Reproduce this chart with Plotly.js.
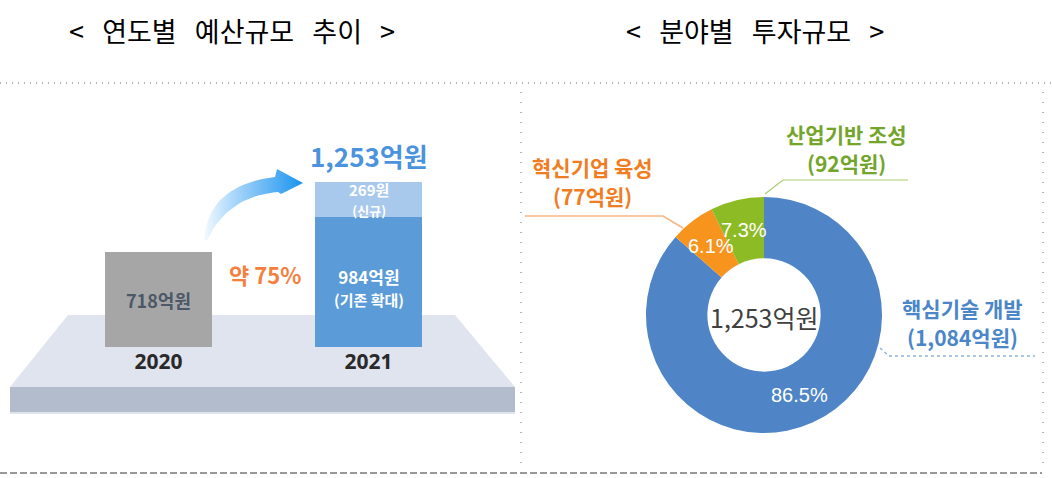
<!DOCTYPE html>
<html>
<head>
<meta charset="utf-8">
<script src="https://cdn.plot.ly/plotly-3.0.1.min.js"></script>
<style>html,body{margin:0;padding:0;background:#fff;}</style>
</head>
<body>
<div id="chart" style="width:1052px;height:478px;"></div>
<script>
const W = 1052, H = 478;

// 연도별 예산규모 (억원)
const years = ['2020', '2021'];
const existing = [718, 984];      // 2020 전체 / 2021 기존 확대
const newYears = ['2021'];
const added = [269];              // 2021 신규

// 분야별 투자규모 (억원)
const fields = ['핵심기술 개발', '혁신기업 육성', '산업기반 조성'];
const fieldBudget = [1084, 77, 92];
const fieldColors = ['#4f85c6', '#f7941d', '#8dbb25'];
const fieldTextColors = ['#4a86c8', '#f07d22', '#72a52a'];

// pixel -> paper
const px = x => x / W;
const py = y => 1 - y / H;

const total2021 = existing[1] + added[0];
const growth = Math.round((total2021 / existing[0] - 1) * 100);
const fmt = v => v.toLocaleString('en-US');
const yi = y => years.indexOf(y); // category index for annotations

const KR = '"Noto Sans CJK KR", "Noto Sans", sans-serif';

// bar subplot placement (px)
const barBase = 347, pxPerUnit = 0.1317, yMax = 1400;
const barLeft = 53.5, barRight = 473.5;

// 곡선 화살표 (장식)
const bez = (p0, c, p1, n) => Array.from(Array(n + 1), (el, i) => {
    const t = i / n;
    return [
        (1 - t) * (1 - t) * p0[0] + 2 * (1 - t) * t * c[0] + t * t * p1[0],
        (1 - t) * (1 - t) * p0[1] + 2 * (1 - t) * t * c[1] + t * t * p1[1]
    ];
});
const arrowPts = [
    ...bez([204, 240], [208, 185], [275, 177], 20),
    [277, 169], [303, 183], [281, 194], [278, 192],
    ...bez([278, 192], [228, 196], [207, 240], 20)
];

const barExisting = {
    type: 'bar',
    x: years,
    y: existing,
    width: 0.51,
    marker: { color: ['#a6a6a6', '#5b9bd8'], line: { width: 0 } },
    hoverinfo: 'skip',
    xaxis: 'x', yaxis: 'y'
};
const barAdded = {
    type: 'bar',
    x: newYears,
    y: added,
    width: 0.51,
    marker: { color: '#a9c9ec', line: { width: 0 } },
    hoverinfo: 'skip',
    xaxis: 'x', yaxis: 'y'
};
const arrow = {
    type: 'scatter',
    mode: 'lines',
    x: arrowPts.map(p => p[0]),
    y: arrowPts.map(p => p[1]),
    fill: 'toself',
    fillcolor: '#5cb3f5',
    fillgradient: {
        type: 'horizontal',
        colorscale: [[0, '#f4faff'], [0.25, '#b5dcfb'], [1, '#1a93ee']]
    },
    line: { width: 0, color: 'rgba(0,0,0,0)' },
    hoverinfo: 'skip',
    xaxis: 'x2', yaxis: 'y2'
};

// donut
const pieX = [646, 882], pieY = [195, 435];
const cx = (pieX[0] + pieX[1]) / 2, cy = (pieY[0] + pieY[1]) / 2;
const R = Math.min(pieX[1] - pieX[0], pieY[1] - pieY[0]) / 2;
const hole = 0.48;
const donut = {
    type: 'pie',
    labels: fields,
    values: fieldBudget,
    hole: hole,
    sort: false,
    direction: 'clockwise',
    rotation: 0,
    textinfo: 'none',
    hoverinfo: 'label+value+percent',
    marker: { colors: fieldColors, line: { width: 0 } },
    domain: { x: [px(pieX[0]), px(pieX[1])], y: [py(pieY[1]), py(pieY[0])] },
    showlegend: false
};

const fieldTotal = fieldBudget.reduce((a, b) => a + b, 0);
let cum = 0;
const pctAnn = fieldBudget.map(v => {
    const mid = (cum + v / 2) / fieldTotal * 2 * Math.PI;
    cum += v;
    const r = R * (1 + hole) / 2;
    return {
        xref: 'paper', yref: 'paper', xanchor: 'center', yanchor: 'middle',
        x: px(cx + r * Math.sin(mid)), y: py(cy - r * Math.cos(mid)),
        text: (v / fieldTotal * 100).toFixed(1) + '%',
        showarrow: false,
        font: { family: '"Liberation Sans", Arial, sans-serif', size: 20, color: '#ffffff' }
    };
});

// label positions for the fields (px): [x, name y, value y]
const fieldLabelPos = [[962, 308, 337], [592, 167, 196], [846, 134, 163]];
const fieldAnn = [];
fields.forEach((f, i) => {
    const font = { family: KR, size: 21, color: fieldTextColors[i], weight: 'bold' };
    fieldAnn.push({
        xref: 'paper', yref: 'paper', xanchor: 'center', yanchor: 'middle',
        x: px(fieldLabelPos[i][0]), y: py(fieldLabelPos[i][1]),
        text: f, showarrow: false, font: font
    });
    fieldAnn.push({
        xref: 'paper', yref: 'paper', xanchor: 'center', yanchor: 'middle',
        x: px(fieldLabelPos[i][0]), y: py(fieldLabelPos[i][2]),
        text: '(' + fmt(fieldBudget[i]) + '억원)', showarrow: false, font: font
    });
});

const leaders = [
    { pts: [[880, 348], [889, 356], [1035, 356]], color: '#8db2df', dash: 'dot', width: 1.5 },
    { pts: [[525, 216], [663, 216], [683, 228]], color: '#f8b583', dash: 'solid', width: 1.5 },
    { pts: [[765, 194], [783, 180], [908, 180]], color: '#a9cd6c', dash: 'solid', width: 1.2 }
];
const toPath = pts => pts.map((p, i) => (i ? 'L' : 'M') + px(p[0]).toFixed(5) + ',' + py(p[1]).toFixed(5)).join(' ');

const shapes = [
    // platform top face
    { type: 'path', xref: 'paper', yref: 'paper', layer: 'below',
      path: toPath([[68, 315], [455, 315], [515, 387], [10, 387]]) + ' Z',
      fillcolor: '#dfe4ee', line: { width: 0 } },
    // platform front face
    { type: 'path', xref: 'paper', yref: 'paper', layer: 'below',
      path: toPath([[10, 387], [515, 387], [515, 412], [10, 412]]) + ' Z',
      fillcolor: '#b2bccd', line: { width: 0 } },
    { type: 'line', xref: 'paper', yref: 'paper', layer: 'below',
      x0: px(10), x1: px(515), y0: py(413), y1: py(413), line: { color: '#dfe4ec', width: 2 } },
    // frame lines
    { type: 'line', xref: 'paper', yref: 'paper', x0: 0, x1: 1, y0: py(83), y1: py(83),
      line: { color: '#666', width: 1, dash: '1px,5px' } },
    { type: 'line', xref: 'paper', yref: 'paper', x0: px(521), x1: px(521), y0: py(92), y1: py(468),
      line: { color: '#666', width: 1, dash: '1px,9px' } },
    { type: 'line', xref: 'paper', yref: 'paper', x0: px(1043), x1: px(1043), y0: py(92), y1: py(468),
      line: { color: '#666', width: 1, dash: '1px,9px' } },
    { type: 'line', xref: 'paper', yref: 'paper', x0: 0, x1: px(1042), y0: py(473), y1: py(473),
      line: { color: '#333', width: 1, dash: '7px,3px' } },
    ...leaders.map(l => ({
        type: 'path', xref: 'paper', yref: 'paper', path: toPath(l.pts),
        line: { color: l.color, width: l.width, dash: l.dash }
    }))
];

const titleFont = { family: KR, size: 27, color: '#000000' };
const sp = '\u00a0\u00a0\u00a0';
const annotations = [
    { xref: 'paper', yref: 'paper', xanchor: 'center', yanchor: 'middle', x: px(232), y: py(30), showarrow: false,
      text: '<' + sp + '연도별' + sp + '예산규모' + sp + '추이' + sp + '>', font: titleFont },
    { xref: 'paper', yref: 'paper', xanchor: 'center', yanchor: 'middle', x: px(755), y: py(30), showarrow: false,
      text: '<' + sp + '분야별' + sp + '투자규모' + sp + '>', font: titleFont },
    // bar texts
    { xref: 'x', yref: 'y', xanchor: 'center', yanchor: 'middle', x: yi('2020'), y: existing[0] / 2, showarrow: false,
      text: fmt(existing[0]) + '억원', font: { family: KR, size: 18, color: '#4c5868', weight: 'bold' } },
    { xref: 'x', yref: 'y', xanchor: 'center', yanchor: 'middle', x: yi('2021'), y: existing[1] / 2 - 40, showarrow: false,
      text: fmt(existing[1]) + '억원<br><span style="font-size:15px">(기존 확대)</span>',
      font: { family: KR, size: 17, color: '#ffffff', weight: 'bold' } },
    { xref: 'x', yref: 'y', xanchor: 'center', yanchor: 'middle', x: yi(newYears[0]), y: existing[1] + added[0] / 2, showarrow: false,
      text: added[0] + '원<br><span style="font-size:13px">(신규)</span>',
      font: { family: KR, size: 15, color: '#ffffff', weight: 'bold' } },
    { xref: 'x', yref: 'y', xanchor: 'center', yanchor: 'bottom', x: yi('2021'), y: total2021, yshift: 6, showarrow: false,
      text: fmt(total2021) + '억원', font: { family: KR, size: 26, color: '#4b93dc', weight: 'bold' } },
    { xref: 'paper', yref: 'paper', xanchor: 'center', yanchor: 'middle', x: px(265), y: py(274), showarrow: false,
      text: '약 ' + growth + '%', font: { family: KR, size: 22, color: '#f5803e', weight: 'bold' } },
    // donut center
    { xref: 'paper', yref: 'paper', xanchor: 'center', yanchor: 'middle', x: px(cx), y: py(cy + 2), showarrow: false,
      text: fmt(fieldTotal) + '억원', font: { family: KR, size: 25, color: '#404040' } },
    ...pctAnn,
    ...fieldAnn
];

const layout = {
    width: W, height: H,
    margin: { t: 0, b: 0, l: 0, r: 0 },
    paper_bgcolor: '#ffffff',
    plot_bgcolor: 'rgba(0,0,0,0)',
    showlegend: false,
    barmode: 'stack',
    xaxis: {
        type: 'category',
        domain: [px(barLeft), px(barRight)],
        range: [-0.5, 1.5],
        anchor: 'y',
        showgrid: false, zeroline: false, showline: false, ticks: '',
        tickfont: { family: '"Noto Sans", sans-serif', size: 21, color: '#2a2a2a', weight: 'bold' },
        fixedrange: true
    },
    yaxis: {
        domain: [py(barBase), py(barBase - yMax * pxPerUnit)],
        range: [0, yMax],
        anchor: 'x',
        visible: false,
        fixedrange: true
    },
    xaxis2: { domain: [0, 1], range: [0, W], anchor: 'y2', visible: false, fixedrange: true },
    yaxis2: { domain: [0, 1], range: [H, 0], anchor: 'x2', visible: false, fixedrange: true },
    shapes: shapes,
    annotations: annotations
};

Plotly.newPlot('chart', [barExisting, barAdded, arrow, donut], layout, { displayModeBar: false, staticPlot: true });
</script>
</body>
</html>
